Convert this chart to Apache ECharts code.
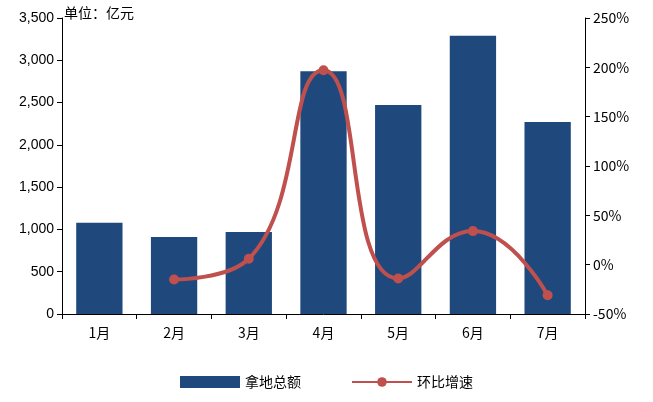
<!DOCTYPE html><html><head><meta charset="utf-8"><script src="https://cdn.jsdelivr.net/npm/echarts@6/dist/echarts.min.js"></script></head><body style="margin:0"><div id="c" style="width:653px;height:402px"></div><script>
const categories=['1月','2月','3月','4月','5月','6月','7月'];
const amount=[1080,910,970,2870,2470,3290,2270];
const growth=[null,-15,6,197,-14,34,-31];
const ch=echarts.init(document.getElementById('c'));
const ax={axisLine:{show:true,lineStyle:{color:'#000'}},axisTick:{show:true,lineStyle:{color:'#000'}},splitLine:{show:false},axisLabel:{color:'#000',fontSize:14,fontFamily:'Arial'}};
ch.setOption({
textStyle:{fontFamily:'Noto Sans CJK SC'},
grid:{left:62,right:68,top:18,bottom:88},
graphic:[{type:'text',left:64,top:6,style:{text:'单位：亿元',font:'14px "Noto Sans CJK SC"',fill:'#000'}}],
legend:{bottom:8,itemGap:50,textStyle:{fontSize:14,color:'#000'},data:[{name:'拿地总额',icon:'rect'},{name:'环比增速'}],itemWidth:60,itemHeight:12},
xAxis:{type:'category',data:categories,...ax,axisLabel:{color:'#000',fontSize:14,margin:12}},
yAxis:[{type:'value',min:0,max:3500,interval:500,...ax},
{type:'value',min:-50,max:250,interval:50,...ax,axisLabel:{color:'#000',fontSize:14,formatter:'{value}%'}}],
series:[{name:'拿地总额',type:'bar',data:amount,barWidth:'62%',itemStyle:{color:'#1F497D'}},
{name:'环比增速',type:'line',yAxisIndex:1,data:growth,smooth:true,symbol:'circle',symbolSize:10,lineStyle:{width:4,color:'#C0504D'},itemStyle:{color:'#C0504D'}}]
});
</script></body></html>
